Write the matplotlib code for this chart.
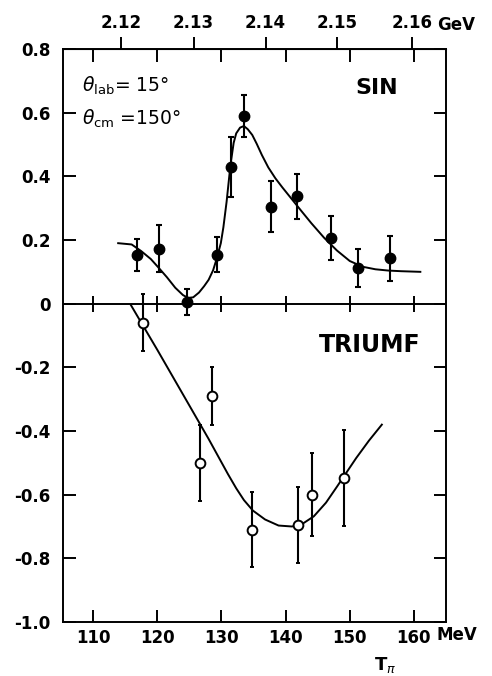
import numpy as np
import matplotlib.pyplot as plt

# SIN data (filled circles)
sin_t = [116.8, 120.3, 124.7, 129.3, 131.5, 133.5, 137.7, 141.7, 147.1, 151.25, 156.25]
sin_y = [0.154, 0.173, 0.005, 0.154, 0.43, 0.59, 0.305, 0.337, 0.206, 0.112, 0.142]
sin_err = [0.05, 0.075, 0.04, 0.055, 0.095, 0.065, 0.08, 0.07, 0.07, 0.06, 0.07]

# TRIUMF data (open circles)
tri_t = [117.8, 126.7, 128.6, 134.8, 141.9, 144.1, 149.1]
tri_y = [-0.06, -0.50, -0.29, -0.71, -0.695, -0.60, -0.547]
tri_err = [0.09, 0.12, 0.09, 0.117, 0.12, 0.13, 0.15]

# fitted curves
sin_curve_t = [113.9, 116.0, 117.5, 119.0, 120.2, 121.5, 122.8, 124.0, 124.8, 125.6,
               126.5, 127.3, 128.0, 128.7, 129.3, 129.9, 130.3, 130.8, 131.4, 131.9,
               132.3, 132.9, 133.5, 134.1, 134.8, 135.5, 136.3, 137.3, 138.4, 139.5,
               140.5, 141.5, 142.5, 144.0, 146.0, 148.0, 150.0, 152.0, 154.0, 156.0,
               158.0, 161.0]
sin_curve_y = [0.19, 0.186, 0.165, 0.14, 0.113, 0.083, 0.05, 0.027, 0.018, 0.02,
               0.035, 0.055, 0.075, 0.105, 0.144, 0.19, 0.24, 0.32, 0.435, 0.505,
               0.535, 0.553, 0.558, 0.548, 0.53, 0.502, 0.467, 0.428, 0.394, 0.365,
               0.34, 0.315, 0.29, 0.253, 0.207, 0.167, 0.134, 0.116, 0.108, 0.104,
               0.102, 0.10]

tri_curve_t = [115.9, 117.8, 120.0, 122.0, 124.0, 126.0, 128.0, 129.5, 131.0, 132.3,
               133.5, 134.9, 136.8, 138.9, 141.0, 142.6, 144.4, 146.3, 148.0, 149.5,
               151.0, 153.0, 155.0]
tri_curve_y = [-0.005, -0.07, -0.145, -0.215, -0.285, -0.355, -0.425, -0.48, -0.535, -0.58,
               -0.617, -0.65, -0.678, -0.697, -0.70, -0.692, -0.668, -0.625, -0.575, -0.53,
               -0.485, -0.43, -0.38]

# axes ticks
mev_ticks = [110, 120, 130, 140, 150, 160]
mev_labels = ['110', '120', '130', '140', '150', '160']
y_ticks = [0.8, 0.6, 0.4, 0.2, 0.0, -0.2, -0.4, -0.6, -0.8, -1.0]
y_labels = ['0.8', '0.6', '0.4', '0.2', '0', '-0.2', '-0.4', '-0.6', '-0.8', '-1.0']
gev_pos = [114.4, 125.65, 136.87, 147.98, 159.7]
gev_labels = ['2.12', '2.13', '2.14', '2.15', '2.16']

W, H = 492, 676
plt.rcParams['font.family'] = 'DejaVu Sans'
plt.rcParams['mathtext.fontset'] = 'dejavusans'

fig = plt.figure(figsize=(W / 100, H / 100), dpi=100)
ax = fig.add_axes([63 / W, 1 - 622 / H, (446 - 63) / W, (622 - 49) / H])
ax.set_xlim(105.3, 165.0)
ax.set_ylim(-1.0, 0.8)

lw = 1.4
for s in ax.spines.values():
    s.set_linewidth(lw)

ax.set_xticks(mev_ticks, labels=mev_labels)
ax.set_yticks(y_ticks, labels=y_labels)
ax.tick_params(axis='both', direction='in', length=9, width=lw,
               top=True, right=True, labelsize=12)
ax.tick_params(axis='x', pad=5)
ax.tick_params(axis='y', pad=9)
for t in ax.get_xticklabels() + ax.get_yticklabels():
    t.set_fontweight('bold')

# energy scale on top
sec = ax.secondary_xaxis('top')
sec.set_xticks(gev_pos, labels=gev_labels)
sec.tick_params(direction='out', length=9, width=lw, labelsize=12, pad=3)
for t in sec.get_xticklabels():
    t.set_fontweight('bold')

# zero line with crossing ticks
ax.axhline(0, color='black', lw=lw)
ax.plot(mev_ticks, np.zeros(len(mev_ticks)), ls='none', marker='|',
        ms=12, mew=lw, color='black')

ax.plot(sin_curve_t, sin_curve_y, color='black', lw=1.4)
ax.plot(tri_curve_t, tri_curve_y, color='black', lw=1.4)

ax.errorbar(sin_t, sin_y, yerr=sin_err, fmt='o', ms=7.5, color='black',
            ecolor='black', elinewidth=1.5, capsize=2.2, capthick=1.5)
ax.errorbar(tri_t, tri_y, yerr=tri_err, fmt='o', ms=7, mfc='white', mec='black',
            mew=1.4, ecolor='black', elinewidth=1.5, capsize=1.5, capthick=1.5)

ax.text(0.818, 0.932, 'SIN', transform=ax.transAxes, ha='center', va='center',
        fontsize=16, fontweight='bold')
ax.text(0.80, 0.483, 'TRIUMF', transform=ax.transAxes, ha='center', va='center',
        fontsize=17, fontweight='bold')
ax.text(0.049, 0.935, r'$\theta_{\mathrm{lab}}$= 15°', transform=ax.transAxes,
        ha='left', va='center', fontsize=13.5)
ax.text(0.049, 0.878, r'$\theta_{\mathrm{cm}}$ =150°', transform=ax.transAxes,
        ha='left', va='center', fontsize=13.5)

fig.text(437 / W, 1 - 635 / H, 'MeV', ha='left', va='center', fontsize=12,
         fontweight='bold')
fig.text(437 / W, 1 - 25 / H, 'GeV', ha='left', va='center', fontsize=12,
         fontweight='bold')
fig.text(385 / W, 1 - 665 / H, r'$\mathbf{T}_\pi$', ha='center', va='center',
         fontsize=13)

fig.savefig('out.png', dpi=100)
